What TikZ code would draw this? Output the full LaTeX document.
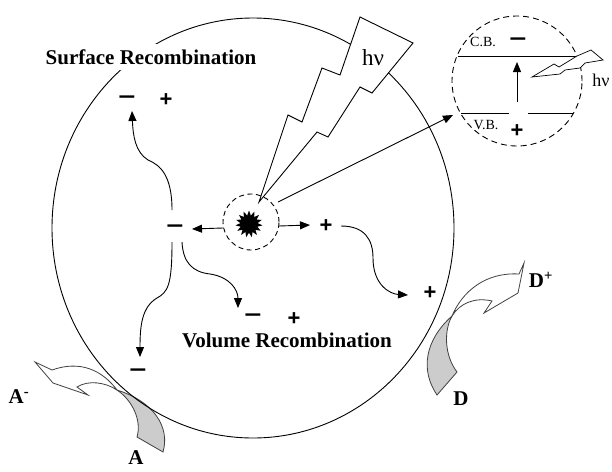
\documentclass[tikz,border=0pt]{standalone}
\usepackage{graphicx}
\usepackage{fontspec}
\setmainfont{Liberation Serif}
\newfontfamily\signfont{Liberation Sans}
\usetikzlibrary{arrows.meta,shapes.geometric}
\begin{document}
\begin{tikzpicture}[x=1pt,y=-1pt,
  line width=0.9pt,
  tri/.style={-{Triangle[length=10pt,width=8pt]}},
  lbl/.style={font=\fontsize{21}{21}\selectfont\bfseries, inner sep=0pt},
  band/.style={font=\fontsize{14}{14}\selectfont, inner sep=0pt},
  plussign/.style={font=\fontsize{22}{22}\signfont\bfseries, inner sep=0pt},
  minussign/.style={font=\fontsize{24}{24}\signfont\bfseries, inner sep=0pt},
  ribbon/.style={line width=0.8pt, draw=black!75},
  dashcircle/.style={draw, circle, dash pattern=on 5pt off 3.5pt, inner sep=0pt}
]
\useasboundingbox (0,0) rectangle (612,471);

% ---- acceptor A -> A^- transfer ribbon
\draw[ribbon, fill=white] (35,362) -- (52,370) .. controls (80,360) and (102,370) .. (117,390)
   .. controls (105,382) and (88,380) .. (77,387) -- (88,395) -- (53,383) -- cycle;
\draw[ribbon, fill=black!20] (117,390) .. controls (132,400) and (142,420) .. (137,437)
   -- (163,452) .. controls (170,428) and (155,402) .. (117,390) -- cycle;

% ---- donor D -> D^+ transfer ribbon
\draw[ribbon, fill=black!20] (437,395) .. controls (420,370) and (425,340) .. (452,316)
   .. controls (444,330) and (444,355) .. (457,372) -- cycle;
\draw[ribbon, fill=white] (452,316) .. controls (462,292) and (485,272) .. (519,274)
   -- (524,263) -- (518,293) -- (484,313) -- (492,301)
   .. controls (475,297) and (460,303) .. (452,316) -- cycle;

% ---- semiconductor particle
\draw (253,228) ellipse [x radius=201, y radius=210];

% ---- labels on the particle
\node[lbl, fill=white, inner sep=5pt] (surf) at (151,57) {Surface Recombination};
\node[lbl] (vol) at (287,340) {Volume Recombination};

% ---- incoming photon
\draw[fill=white] (259,202) -- (288,115) -- (302,122) -- (322,68) -- (340,75) -- (360,17)
   -- (413,43) -- (372,93) -- (360,87) -- (328,137) -- (317,132) -- cycle;
\node[font=\fontsize{23}{23}\selectfont, inner sep=0pt] (hnu) at (373,58) {hν};

% ---- excitation spot
\node[dashcircle, minimum size=56pt] (spot) at (251,222) {};
\node[star, star points=15, star point ratio=1.55, fill=black, minimum size=27pt, inner sep=0pt] (burst) at (249,224) {};

% ---- charges
\node[minussign] (eC) at (175,229) {\scalebox{1.25}[1]{–}};
\node[plussign] (hC) at (326,226) {+};
\node[minussign] (eS) at (127,100) {\scalebox{1.25}[1]{–}};
\node[plussign] (hS) at (166,100) {+};
\node[minussign] (eV) at (253,318) {\scalebox{1.25}[1]{–}};
\node[plussign] (hV) at (294,319) {+};
\node[minussign] (eA) at (138,373) {\scalebox{1.25}[1]{–}};
\node[plussign] (hD) at (430,293) {+};

% ---- connector end points
\coordinate (sL) at (223,228);
\coordinate (sR) at (279,226);
\coordinate (sT) at (278,202);
\coordinate (eCl) at (192,229);
\coordinate (hCr) at (310,225);
\coordinate (eCt) at (172,210);
\coordinate (eCb) at (172,242);
\coordinate (eCd) at (182,242);
\coordinate (eSb) at (132,111);
\coordinate (eAt) at (140,357);
\coordinate (eVt) at (238,308);
\coordinate (hCs) at (341,226);
\coordinate (hDl) at (408,295);
\coordinate (insetIn) at (453,115);

% ---- charge separation and migration
\draw[tri] (sL) -- (eCl);
\draw[tri] (sR) -- (hCr);
\draw[tri] (sT) -- (insetIn);
\draw[tri] (eCt) .. controls (172,175) and (160,165) .. (148,160)
   .. controls (135,152) and (133,135) .. (eSb);
\draw[tri] (eCb) .. controls (172,285) and (168,292) .. (157,298)
   .. controls (142,307) and (140,325) .. (eAt);
\draw[tri] (eCd) .. controls (183,262) and (192,272) .. (210,274)
   .. controls (230,277) and (238,290) .. (eVt);
\draw[tri] (hCs) .. controls (365,226) and (373,240) .. (373,258)
   .. controls (373,285) and (390,294) .. (hDl);

% ---- band diagram inset
\node[dashcircle, minimum size=130pt, dash pattern=on 6pt off 4pt] (inset) at (517,81) {};
\coordinate (cbL) at (458,56);
\coordinate (cbR) at (579,56);
\coordinate (vbL) at (461,113);
\coordinate (vbM1) at (509,113);
\coordinate (vbM2) at (528,113);
\coordinate (vbR) at (573,113);
\coordinate (exB) at (517,102);
\coordinate (exT) at (517,62);
\draw (cbL) -- (cbR);
\draw (vbL) -- (vbM1);
\draw (vbM2) -- (vbR);
\draw[-{Triangle[length=10pt,width=8pt]}] (exB) -- (exT);
\node[band] (cb) at (483,42) {C.B.};
\node[band] (vb) at (486,125) {V.B.};
\node[minussign] (eI) at (518,42) {\scalebox{1.25}[1]{–}};
\node[plussign] (hI) at (517,131) {+};
\draw[line width=0.7pt, fill=white] (532,77) -- (554,64) -- (559,67) -- (577,56) -- (591,50)
   -- (603,60) -- (585,63) -- (580,68) -- (565,70) -- (560,74) -- cycle;
\node[font=\fontsize{18}{18}\selectfont, inner sep=0pt, anchor=west] (hnu2) at (592,80) {hν};

% ---- species labels
\node[lbl] (Am) at (19,397) {A\textsuperscript{-}};
\node[lbl] (A) at (136,458) {A};
\node[lbl] (Dp) at (541,280) {D\textsuperscript{+}};
\node[lbl] (D) at (461,399) {D};
\end{tikzpicture}
\end{document}
